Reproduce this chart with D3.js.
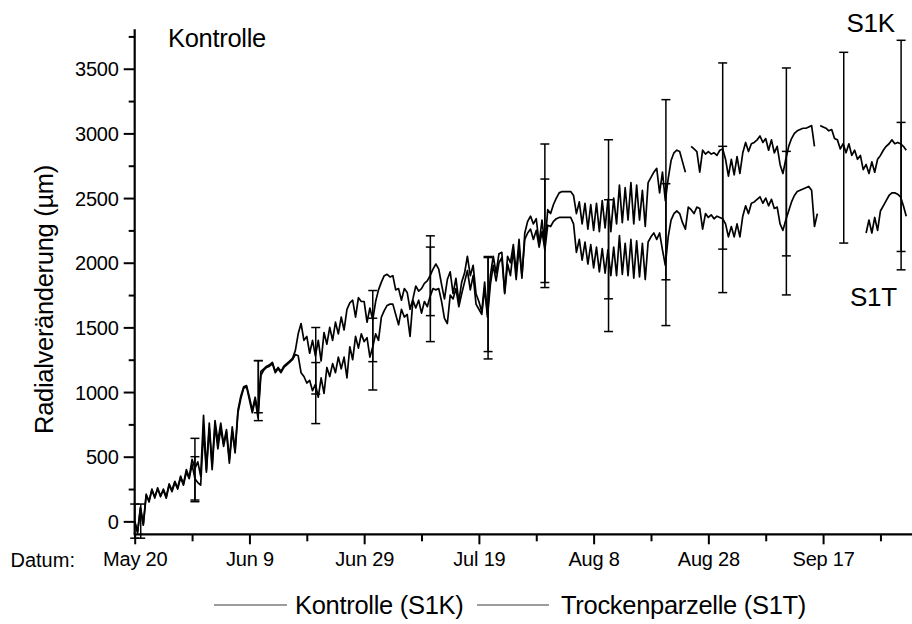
<!DOCTYPE html>
<html>
<head>
<meta charset="utf-8">
<script src="https://cdn.jsdelivr.net/npm/d3@7"></script>
<style>
  html, body { margin: 0; padding: 0; background: #fff; }
  svg { display: block; font-family: "Liberation Sans", Arial, sans-serif; }
</style>
</head>
<body>
<svg id="chart" width="912" height="624"></svg>
<script>
// Radial stem change (µm) since May 20, half-day readings
const dayStep = 0.5;

const kontrolle = [
  0, -90, 110, -20, 210, 150, 250, 180, 260, 190,
  250, 190, 290, 240, 310, 260, 350, 290, 400, 340,
  480, 410, 460, 350, 820, 400, 760, 430, 780, 620,
  760, 600, 710, 480, 730, 550, 860, 970, 1040, 1050,
  960, 860, 960, 840, 1160, 1180, 1200, 1210, 1230, 1160,
  1190, 1160, 1200, 1220, 1240, 1260, 1320, 1450, 1530, 1400,
  1430, 1300, 1400, 1280, 1400, 1240, 1460, 1370, 1500, 1400,
  1540, 1450, 1580, 1480, 1640, 1690, 1710, 1580, 1730, 1700,
  1700, 1540, 1650, 1560, 1700, 1790, 1850, 1900, 1910, 1890,
  1900, 1790, 1800, 1710, 1800, 1770, 1640, 1720, 1820, 1780,
  1800, 1840, 1860, 1900, 1950, 1990, 1950, 1830, 1720, 1870,
  1930, 1760, 1880, 1700, 1850, 1920, 2050, 1900, 1980, 1760,
  1700, 1620, 1850, 1600, 1900, 2050, 1920, 2070, 2080, 1770,
  2050, 2000, 2140, 1930, 2180, 1880, 2230, 2320, 2360, 2300,
  2340, 2150, 2330, 2130, 2410, 2380, 2450, 2500, 2540, 2550,
  2550, 2550, 2550, 2520, 2380, 2470, 2300, 2460, 2260, 2450,
  2250, 2460, 2240, 2480, 2270, 2490, 2240, 2500, 2300, 2600,
  2310, 2580, 2330, 2620, 2300, 2600, 2330, 2560, 2280, 2620,
  2660, 2700, 2730, 2540, 2700, 2480, 2650, 2790, 2850, 2870,
  2860, 2780, 2700, null, 2900, 2880, 2860, 2700, 2870, 2840,
  2860, 2840, 2850, 2830, 2870, 2880, 2800, 2670, 2800, 2680,
  2820, 2690, 2850, 2930, 2860, 2920, 2930, 2950, 2980, 2930,
  2960, 2870, 2950, 2850, 2900, 2760, 2690, 2800, 2900, 2960,
  3000, 3020, 3030, 3040, 3040, 3050, 3060, 2900, null, 3060,
  3050, 3040, 3020, 3030, 2960, 2950, 2880, 2920, 2850, 2920,
  2830, 2870, 2800, 2830, 2720, 2760, 2690, 2780, 2700, 2800,
  2830, 2870, 2900, 2920, 2950, 2920, 2930, 2920, 2900, 2870
];

const trocken = [
  0, -80, 100, -30, 200, 160, 240, 190, 250, 200,
  240, 180, 280, 230, 300, 250, 340, 280, 380, 330,
  440, 330, 300, 280, 700, 380, 720, 400, 740, 560,
  720, 580, 690, 450, 700, 530, 840, 950, 1030, 1040,
  940, 840, 940, 800, 1130, 1170, 1190, 1200, 1220, 1150,
  1180, 1150, 1190, 1210, 1230, 1250, 1290, 1280, 1150, 1120,
  1070, 1090, 1010, 1060, 960, 1110, 990, 1190, 1120, 1220,
  1150, 1270, 1180, 1270, 1110, 1350, 1250, 1430, 1340, 1450,
  1390, 1420, 1270, 1350, 1450, 1400, 1580, 1630, 1670, 1680,
  1680, 1600, 1520, 1640, 1580, 1600, 1430, 1710, 1650, 1710,
  1610, 1700, 1660, 1740, 1800, 1790, 1800, 1700, 1570, 1530,
  1750, 1720, 1800, 1660, 1760, 1850, 1940, 1790, 1900, 1680,
  1640, 1600, 1800, 1580, 1830, 1980, 1860, 2000, 2040, 1760,
  1990, 1900, 2100, 1870, 2120, 1900, 2180, 2230, 2260, 2180,
  2250, 2120, 2240, 2100, 2290, 2280, 2320, 2340, 2350, 2350,
  2350, 2350, 2350, 2300, 2080, 2180, 2020, 2160, 1990, 2140,
  1960, 2120, 1930, 2110, 1920, 2100, 1900, 2120, 1900, 2210,
  1910, 2150, 1900, 2180, 1880, 2170, 1890, 2150, 1870, 2160,
  2200, 2230, 2180, 2230, 2100, 1980, 2200, 2330, 2380, 2400,
  2380, 2310, 2260, 2430, 2410, 2380, 2430, 2420, 2260, 2380,
  2350, 2370, 2340, 2360, 2350, 2340, 2300, 2200, 2280, 2200,
  2300, 2200, 2360, 2440, 2380, 2460, 2470, 2490, 2510, 2460,
  2500, 2440, 2490, 2420, 2430, 2300, 2250, 2330, 2400, 2470,
  2520, 2550, 2560, 2570, 2580, 2590, 2560, 2280, 2380, null,
  null, null, null, null, null, null, null, null, null, null,
  null, null, null, null, null, 2230, 2330, 2230, 2350, 2250,
  2400, 2440, 2480, 2520, 2540, 2540, 2530, 2510, 2440, 2360
];

// Error bars (day since May 20, lower and upper bound)
const kErrDays = [0, 10.5, 21.55, 31.56, 41.5, 51.54, 61.6, 71.5, 82.6, 92.6, 102.5, 113.6, 123.6, 133.6];
const kErrLow  = [-130, 165, 840, 985, 1235, 1591, 1313, 1847, 1721, 1868, 2105, 2053, 2152, 2087];
const kErrHigh = [134, 642, 1243, 1499, 1785, 2208, 2048, 2918, 2951, 3261, 3545, 3506, 3627, 3720];

const tErrDays = [1.05, 10.5, 21.55, 31.56, 41.5, 51.54, 61.6, 71.5, 82.6, 92.6, 102.5, 113.6, 133.6];
const tErrLow  = [-130, 152, 779, 756, 1016, 1390, 1256, 1808, 1468, 1514, 1769, 1751, 1945];
const tErrHigh = [134, 500, 1243, 1228, 1571, 2121, 2040, 2647, 2487, 2611, 2900, 2861, 3085];

const dateTickDays = [0, 20, 40, 60, 80, 100, 120];
const dateTickLabels = ["May 20", "Jun 9", "Jun 29", "Jul 19", "Aug 8", "Aug 28", "Sep 17"];
const yTicks = [0, 500, 1000, 1500, 2000, 2500, 3000, 3500];

const svg = d3.select("#chart");
const x = d3.scaleLinear().domain([0, 135.5]).range([134.7, 912]);
const y = d3.scaleLinear().domain([-100, 3805]).range([534.3, 29.3]);

const ink = "#000";

// Axes
const yAxis = d3.axisLeft(y).tickValues(yTicks).tickSize(11).tickPadding(5).tickFormat(d3.format("d"));
const yMinor = d3.axisLeft(y).tickValues(d3.range(250, 3800, 500)).tickSize(6).tickFormat("");
const xAxis = d3.axisBottom(x).tickValues(dateTickDays).tickSize(10).tickPadding(8)
  .tickFormat((d, i) => dateTickLabels[i]);
const xMinor = d3.axisBottom(x).tickValues(d3.range(10, 135, 20)).tickSize(7).tickFormat("");

function styleAxis(g) {
  g.select(".domain").remove();
  g.selectAll(".tick line").attr("stroke", ink).attr("stroke-width", 2);
  g.selectAll(".tick text").attr("fill", ink).style("font-size", "20px").style("letter-spacing", "-0.2px");
}

const gy = svg.append("g").attr("transform", `translate(${x(0)},0)`).call(yAxis).call(styleAxis);
gy.selectAll(".tick text").attr("dy", "0.36em");
svg.append("g").attr("transform", `translate(${x(0)},0)`).call(yMinor).call(styleAxis);
svg.append("g").attr("transform", `translate(0,${y(-100)})`).call(xAxis).call(styleAxis);
svg.append("g").attr("transform", `translate(0,${y(-100)})`).call(xMinor).call(styleAxis);

svg.append("line").attr("x1", x(0)).attr("x2", x(0)).attr("y1", y(3805)).attr("y2", y(-100))
  .attr("stroke", ink).attr("stroke-width", 2.2);
svg.append("line").attr("x1", x(0) - 1).attr("x2", 912).attr("y1", y(-100)).attr("y2", y(-100))
  .attr("stroke", ink).attr("stroke-width", 2.2);

// Series lines
const line = d3.line()
  .defined(d => d != null)
  .x((d, i) => x(i * dayStep))
  .y(d => y(d));

[kontrolle, trocken].forEach(series => {
  svg.append("path").datum(series)
    .attr("fill", "none").attr("stroke", ink).attr("stroke-width", 1.7)
    .attr("stroke-linejoin", "round").attr("d", line);
});

// Error bars
function errorBars(days, lo, hi) {
  const g = svg.append("g").attr("stroke", ink).attr("stroke-width", 1.5);
  days.forEach((d, i) => {
    const cx = x(d);
    g.append("line").attr("x1", cx).attr("x2", cx).attr("y1", y(lo[i])).attr("y2", y(hi[i]));
    [lo[i], hi[i]].forEach(v => {
      g.append("line").attr("x1", cx - 4.5).attr("x2", cx + 4.5).attr("y1", y(v)).attr("y2", y(v));
    });
  });
}
errorBars(kErrDays, kErrLow, kErrHigh);
errorBars(tErrDays, tErrLow, tErrHigh);

// Labels
const txt = (s, px, py, size, ls = 0) => svg.append("text")
  .attr("x", px).attr("y", py).attr("fill", ink)
  .style("font-size", size + "px")
  .style("letter-spacing", ls + "px")
  .text(s);

txt("Kontrolle", 168, 46.5, 25.5, -0.3);
txt("S1K", 846.5, 32.3, 26, -0.3);
txt("S1T", 850, 306, 26, -0.3);
txt("Datum:", 10.5, 566.8, 20, 0);

svg.append("text")
  .attr("transform", "translate(53,299.5) rotate(-90)")
  .attr("text-anchor", "middle").attr("fill", ink)
  .style("font-size", "25.5px").style("letter-spacing", "-0.3px")
  .text("Radialveränderung (µm)");

// Legend
const legend = [
  { label: "Kontrolle (S1K)", x0: 214, x1: 287, tx: 295 },
  { label: "Trockenparzelle (S1T)", x0: 477, x1: 549, tx: 561 }
];
legend.forEach(l => {
  svg.append("line").attr("x1", l.x0).attr("x2", l.x1).attr("y1", 605).attr("y2", 605)
    .attr("stroke", "#3a3a3a").attr("stroke-width", 1.2);
  txt(l.label, l.tx, 614, 25.5, -0.3);
});
</script>
</body>
</html>
